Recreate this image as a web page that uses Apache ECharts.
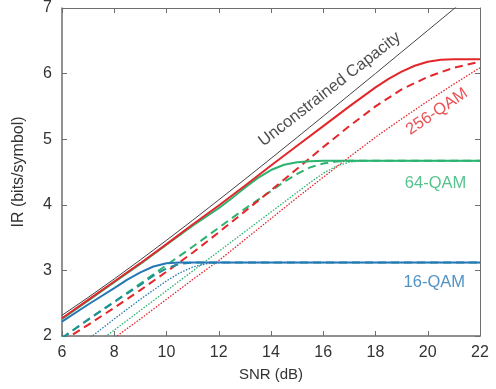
<!DOCTYPE html>
<html>
<head>
<meta charset="utf-8">
<script src="https://cdn.jsdelivr.net/npm/echarts@6/dist/echarts.min.js"></script>
<style>
  html, body { margin: 0; padding: 0; background: #fff; }
  #chart { width: 496px; height: 389px; }
</style>
</head>
<body>
<div id="chart"></div>
<script>
// values, SNR (dB) -> IR (bits/symbol)
const capacity = [[6,2.316],[7,2.588],[8,2.870],[9,3.161],[10,3.459],[11,3.764],[12,4.075],[13,4.389],[14,4.707],[15,5.028],[16,5.351],[17,5.676],[18,6.002],[19,6.330],[20,6.658],[21,6.987],[22,7.317]];

const qam256Solid = [[6,2.27],[7,2.55],[8,2.83],[9,3.11],[10,3.40],[11,3.70],[12,3.99],[13,4.29],[14,4.60],[15,4.90],[16,5.20],[17,5.50],[18,5.79],[18.5,5.92],[19,6.03],[19.5,6.12],[20,6.18],[20.5,6.21],[21,6.22],[22,6.22]];
const qam256Dash = [[6,1.92],[7,2.17],[8,2.43],[9,2.70],[10,2.98],[11,3.27],[12,3.58],[13,3.90],[14,4.22],[15,4.55],[16,4.88],[17,5.20],[18,5.50],[19,5.76],[20,5.95],[21,6.09],[22,6.18]];
const qam256Dot = [[7,1.68],[8,1.97],[9,2.26],[10,2.56],[11,2.86],[12,3.15],[13,3.47],[14,3.79],[15,4.11],[16,4.42],[17,4.73],[18,5.03],[19,5.31],[20,5.58],[21,5.84],[22,6.09]];

const qam64Solid = [[6,2.26],[7,2.54],[8,2.82],[9,3.10],[10,3.39],[11,3.68],[12,3.95],[12.5,4.10],[13,4.26],[13.5,4.41],[14,4.53],[14.5,4.61],[15,4.65],[15.5,4.665],[16,4.67],[22,4.67]];
const qam64Dash = [[6,1.97],[7,2.25],[8,2.52],[9,2.80],[10,3.08],[11,3.36],[12,3.65],[13,3.94],[14,4.21],[14.5,4.35],[15,4.47],[15.5,4.57],[16,4.63],[16.5,4.66],[17,4.67],[22,4.67]];
const qam64Dot = [[7,1.80],[8,2.09],[9,2.39],[10,2.69],[11,2.99],[12,3.29],[13,3.59],[14,3.89],[15,4.19],[15.5,4.34],[16,4.48],[16.5,4.59],[17,4.65],[17.5,4.67],[22,4.67]];

const qam16Solid = [[6,2.22],[7,2.48],[8,2.73],[8.5,2.86],[9,2.97],[9.5,3.06],[10,3.11],[10.5,3.12],[22,3.12]];
const qam16Dash = [[6,1.97],[7,2.25],[8,2.52],[8.5,2.65],[9,2.78],[9.5,2.92],[10,3.03],[10.5,3.10],[11,3.12],[22,3.12]];
const qam16Dot = [[7,1.95],[8,2.26],[9,2.56],[10,2.84],[10.5,2.96],[11,3.05],[11.5,3.10],[12,3.12],[22,3.12]];

// annotation texts and where they sit (data coords)
const labels = [
  { text: 'Unconstrained Capacity', at: [16.25, 5.76], color: '#222', rotate: 38 },
  { text: '256-QAM', at: [20.35, 5.42], color: '#e3262a', rotate: 34 },
  { text: '64-QAM', at: [20.3, 4.33], color: '#2db370', rotate: 0 },
  { text: '16-QAM', at: [20.25, 2.82], color: '#2577b5', rotate: 0 }
];

const red = '#e3262a', green = '#2db370', blue = '#2577b5';
const fontFamily = 'Liberation Sans, Arial, sans-serif';

function line(name, data, color, type, width) {
  return {
    name: name,
    type: 'line',
    data: data,
    showSymbol: false,
    clip: true,
    silent: true,
    lineStyle: {
      color: color,
      width: width,
      type: type === 'dashed' ? [8, 5] : (type === 'dotted' ? [1.5, 1.5] : 'solid')
    }
  };
}

const myChart = echarts.init(document.getElementById('chart'));

const axisColor = '#6e6e6e';
const option = {
  animation: false,
  textStyle: { fontFamily: fontFamily },
  grid: { left: 62, right: 16, top: 8, bottom: 53 },
  xAxis: [
    {
      type: 'value', min: 6, max: 22, interval: 2,
      name: 'SNR (dB)', nameLocation: 'middle', nameGap: 31,
      nameTextStyle: { fontSize: 15, color: '#333', fontFamily: fontFamily },
      axisLine: { lineStyle: { color: axisColor, width: 1.5 } },
      axisTick: { inside: true, length: 5, lineStyle: { color: axisColor } },
      axisLabel: { fontSize: 16, color: '#333', margin: 9, fontFamily: fontFamily },
      splitLine: { show: false }
    },
    {
      type: 'value', min: 6, max: 22, interval: 2, position: 'top',
      axisLine: { show: true, lineStyle: { color: axisColor, width: 1 } },
      axisTick: { inside: true, length: 5, lineStyle: { color: axisColor } },
      axisLabel: { show: false },
      splitLine: { show: false }
    }
  ],
  yAxis: [
    {
      type: 'value', min: 2, max: 7, interval: 1,
      name: 'IR (bits/symbol)', nameLocation: 'middle', nameGap: 35,
      nameTextStyle: { fontSize: 16, color: '#333', fontFamily: fontFamily },
      axisLine: { show: true, lineStyle: { color: axisColor, width: 1.5 } },
      axisTick: { show: true, inside: true, length: 5, lineStyle: { color: axisColor } },
      axisLabel: { fontSize: 16, color: '#333', margin: 10, fontFamily: fontFamily },
      splitLine: { show: false }
    },
    {
      type: 'value', min: 2, max: 7, interval: 1, position: 'right',
      axisLine: { show: true, lineStyle: { color: axisColor, width: 1 } },
      axisTick: { show: true, inside: true, length: 5, lineStyle: { color: axisColor } },
      axisLabel: { show: false },
      splitLine: { show: false }
    }
  ],
  series: [
    line('16-QAM dotted', qam16Dot, blue, 'dotted', 1.3),
    line('64-QAM dotted', qam64Dot, green, 'dotted', 1.3),
    line('256-QAM dotted', qam256Dot, red, 'dotted', 1.3),
    line('64-QAM dashed', qam64Dash, green, 'dashed', 2),
    line('256-QAM dashed', qam256Dash, red, 'dashed', 2),
    line('16-QAM dashed', qam16Dash, '#1f8f9a', 'dashed', 2),
    line('Unconstrained Capacity', capacity, '#444', 'solid', 1),
    line('64-QAM', qam64Solid, green, 'solid', 2),
    line('256-QAM', qam256Solid, red, 'solid', 2),
    line('16-QAM', qam16Solid, blue, 'solid', 2),
    {
      name: 'labels',
      type: 'scatter',
      silent: true,
      symbolSize: 0,
      data: labels.map(l => ({
        value: l.at,
        label: {
          show: true,
          position: 'inside',
          formatter: l.text,
          color: l.color,
          fontSize: 16.5,
          fontFamily: fontFamily,
          rotate: l.rotate
        }
      }))
    }
  ]
};

window.onresize = () => {
  myChart.resize();
};
myChart.setOption(option);
</script>
</body>
</html>
